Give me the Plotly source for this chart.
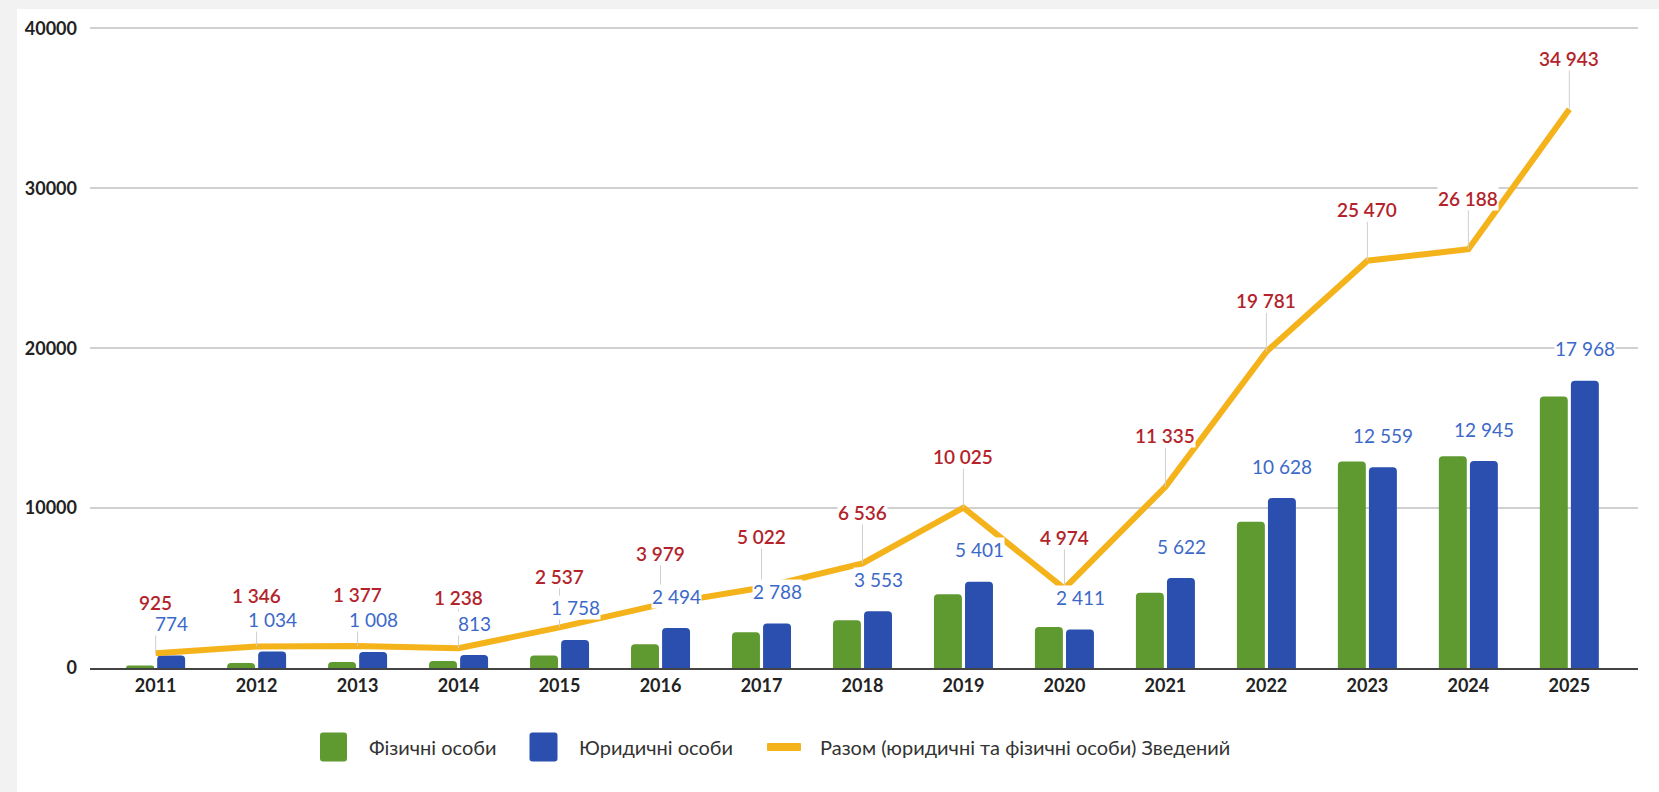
import plotly.graph_objects as go

years = ["2011", "2012", "2013", "2014", "2015", "2016", "2017", "2018",
         "2019", "2020", "2021", "2022", "2023", "2024", "2025"]
# фізичні особи (no labels in the source)
physical = [150, 310, 370, 430, 780, 1490, 2230, 2980, 4620, 2560, 4700,
            9150, 12910, 13240, 16980]
legal = [774, 1034, 1008, 813, 1758, 2494, 2788, 3553, 5401, 2411, 5622,
         10628, 12559, 12945, 17968]
total = [925, 1346, 1377, 1238, 2537, 3979, 5022, 6536, 10025, 4974, 11335,
         19781, 25470, 26188, 34943]
series_names = ["Фізичні особи", "Юридичні особи",
                "Разом (юридичні та фізичні особи) Зведений"]

GREEN = "#5e9a30"
BLUE = "#2a4fae"
YELLOW = "#f4b21b"
RED_TXT = "#b3232b"
BLUE_TXT = "#3c69c8"
FONT = "Lato, Open Sans, sans-serif"

W, H = 1659, 792
L, R, T, B = 90, 21, 26, 124
PW, PH = W - L - R, H - T - B
Y_TOP = 40150


def fmt(v):
    return f"{v:,}".replace(",", " ")


def px_x(p):
    return (p - L) / PW


def px_y(p):
    return (H - B - p) / PH


def rounded_box(w, h, r):
    # path in pixels around the anchor point
    x0, x1, y0, y1 = -w / 2, w / 2, -h / 2, h / 2
    return (f"M{x0 + r},{y0} L{x1 - r},{y0} Q{x1},{y0} {x1},{y0 + r} "
            f"L{x1},{y1 - r} Q{x1},{y1} {x1 - r},{y1} L{x0 + r},{y1} "
            f"Q{x0},{y1} {x0},{y1 - r} L{x0},{y0 + r} Q{x0},{y0} {x0 + r},{y0} Z")


fig = go.Figure()
fig.add_bar(x=years, y=physical, name=series_names[0], showlegend=False,
            marker=dict(color=GREEN, cornerradius=4, line_width=0))
fig.add_bar(x=years, y=legal, name=series_names[1], showlegend=False,
            marker=dict(color=BLUE, cornerradius=4, line_width=0))
fig.add_scatter(x=years, y=total, mode="lines", name=series_names[2],
                showlegend=False, line=dict(color=YELLOW, width=6))

# category axis: annotations placed by category index
for i, v in enumerate(total):
    fig.add_annotation(x=i, y=v, xref="x", yref="y", text=fmt(v),
                       showarrow=True, arrowhead=0, arrowwidth=1,
                       arrowcolor="#cfcfcf", ax=0, ay=-51,
                       bgcolor="white", borderpad=0,
                       font=dict(family=FONT, size=19, color=RED_TXT,
                                 weight=600))
for i, v in enumerate(legal):
    fig.add_annotation(x=i, y=v, xref="x", yref="y", text=fmt(v),
                       showarrow=False, xshift=16, yshift=32,
                       bgcolor="white", borderpad=0,
                       font=dict(family=FONT, size=19, color=BLUE_TXT))

# white card on the grey page
shapes = [dict(type="rect", xref="paper", yref="paper", layer="below",
               x0=px_x(17), x1=px_x(W + 5), y0=px_y(H + 5), y1=px_y(9),
               fillcolor="white", line_width=0)]

# legend drawn by hand: big rounded swatches like the source
swatches = [(333.5, 27, 29, 3, GREEN, 367),
            (543.5, 28, 29, 3, BLUE, 577),
            (784, 34, 8, 1, YELLOW, 818)]
for (cx, w, h, r, col, tx), name in zip(swatches, series_names):
    shapes.append(dict(type="path", xref="paper", yref="paper",
                       xsizemode="pixel", ysizemode="pixel",
                       xanchor=px_x(cx), yanchor=px_y(747),
                       path=rounded_box(w, h, r), fillcolor=col, line_width=0))
    fig.add_annotation(xref="paper", yref="paper", x=px_x(tx), y=px_y(747),
                       xanchor="left", yanchor="middle", showarrow=False,
                       text=name, font=dict(family=FONT, size=20,
                                            color="#333333"))

fig.update_layout(
    width=W, height=H,
    margin=dict(l=L, r=R, t=T, b=B),
    paper_bgcolor="#f2f2f2", plot_bgcolor="white",
    barmode="group", bargap=0.385, bargroupgap=0.1,
    font=dict(family=FONT, color="#333333"),
    shapes=shapes, showlegend=False,
)
fig.update_xaxes(type="category", range=[-0.65, 14.68], showgrid=False,
                 showline=True, linecolor="#444444", linewidth=2,
                 ticks="", tickfont=dict(family=FONT, size=18, color="#222222",
                                         weight="bold"))
fig.update_yaxes(range=[0, Y_TOP], tickvals=[0, 10000, 20000, 30000, 40000],
                 ticktext=["0", "10000", "20000", "30000", "40000"],
                 showgrid=True, gridcolor="#d0d0d0", gridwidth=2,
                 zeroline=False, ticks="", ticklabelstandoff=12,
                 tickfont=dict(family=FONT, size=18, color="#222222",
                               weight="bold"))

fig.write_html("out.html", config={"displayModeBar": False},
               post_script="document.body.style.margin='0px';")
